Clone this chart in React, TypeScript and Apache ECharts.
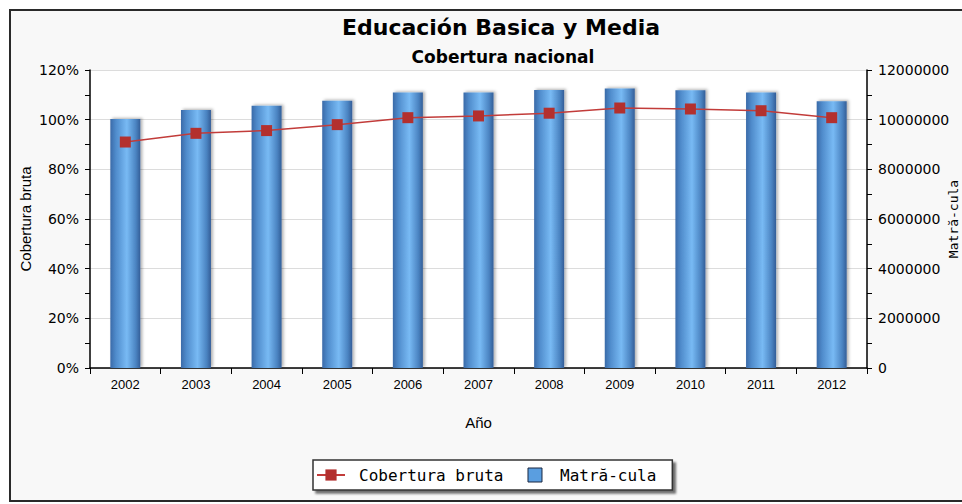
import React, { useEffect, useRef } from "react";
import * as echarts from "echarts";

const years = ["2002", "2003", "2004", "2005", "2006", "2007", "2008", "2009", "2010", "2011", "2012"];
const coberturaBruta = [91.0, 94.5, 95.6, 98.0, 100.8, 101.5, 102.6, 104.7, 104.3, 103.6, 100.8];
const matricula = [10030000, 10390000, 10560000, 10760000, 11090000, 11090000, 11190000, 11260000, 11180000, 11090000, 10740000];
const titleText = "Educación Basica y Media";
const subtitleText = "Cobertura nacional";
const lineName = "Cobertura bruta";
const barName = "Matră-cula";

export default function App() {
  const ref = useRef<HTMLDivElement>(null);
  useEffect(() => {
    if (!ref.current) return;
    const chart = echarts.init(ref.current, null, { renderer: "svg" });
    const barGrad = new echarts.graphic.LinearGradient(0, 0, 1, 0, [
      { offset: 0, color: "#3a6aa8" },
      { offset: 0.18, color: "#4f8bcb" },
      { offset: 0.55, color: "#78baf4" },
      { offset: 0.85, color: "#4b84c2" },
      { offset: 1, color: "#335e98" },
    ]);
    chart.setOption({
      animation: false,
      backgroundColor: "#ffffff",
      graphic: [
        {
          type: "rect",
          z: -100,
          silent: true,
          shape: { x: 10, y: 10, width: 980, height: 491 },
          style: { fill: "#f8f8f8", stroke: "#2a2a2a", lineWidth: 2 },
        },
      ],
      title: [
        {
          text: titleText,
          left: 496,
          textAlign: "center",
          top: 11,
          textStyle: { fontFamily: "DejaVu Sans", fontWeight: "bold", fontSize: 22, color: "#000" },
        },
        {
          text: subtitleText,
          left: 498,
          textAlign: "center",
          top: 43,
          textStyle: { fontFamily: "DejaVu Sans", fontWeight: "bold", fontSize: 17, color: "#000" },
        },
      ],
      legend: {
        left: 313,
        top: 460,
        orient: "horizontal",
        backgroundColor: "#ffffff",
        borderColor: "#333",
        borderWidth: 1.5,
        borderRadius: 0,
        shadowColor: "rgba(0,0,0,0.55)",
        shadowOffsetX: 3,
        shadowOffsetY: 3,
        shadowBlur: 2,
        padding: [7, 16, 7, 3],
        itemWidth: 28,
        itemHeight: 14,
        itemGap: 24,
        textStyle: { fontFamily: "DejaVu Sans Mono", fontSize: 16, color: "#000", padding: [0, 0, 0, 9] },
        data: [
          { name: lineName },
          {
            name: barName,
            icon: "path://M0,0H10V10H0Z",
            itemStyle: { color: "#5a9ee0", borderColor: "#1a2740", borderWidth: 1 },
            textStyle: { padding: [0, 0, 0, 6] },
          },
        ],
      },
      grid: {
        left: 90,
        right: 95,
        top: 70,
        bottom: 136,
        show: true,
        backgroundColor: "#ffffff",
        borderWidth: 0,
        containLabel: false,
        outerBoundsMode: "none",
      },
      xAxis: {
        type: "category",
        data: years,
        boundaryGap: true,
        name: "Año",
        nameLocation: "middle",
        nameGap: 47,
        nameTextStyle: { fontFamily: "Liberation Sans", fontSize: 15, color: "#000" },
        axisLine: { lineStyle: { color: "#000", width: 1.5 } },
        axisTick: { show: true, length: 6, lineStyle: { color: "#000" } },
        axisLabel: { fontFamily: "Liberation Sans", fontSize: 13, color: "#000", margin: 10 },
        splitLine: { show: false },
      },
      yAxis: [
        {
          type: "value",
          position: "left",
          min: 0,
          max: 120,
          interval: 20,
          name: lineName,
          nameLocation: "middle",
          nameGap: 57,
          nameMoveOverlap: false,
          nameTextStyle: { fontFamily: "Liberation Sans", fontSize: 15, color: "#000" },
          axisLine: { show: true, lineStyle: { color: "#000", width: 1.5 } },
          axisTick: { show: true, length: 5, lineStyle: { color: "#000" } },
          minorTick: { show: true, splitNumber: 2, length: 5, lineStyle: { color: "#000" } },
          axisLabel: { formatter: "{value}%", fontFamily: "DejaVu Sans", fontSize: 14, color: "#000", margin: 11 },
          splitLine: { show: true, lineStyle: { color: "#dcdcdc", width: 1 } },
        },
        {
          type: "value",
          position: "right",
          min: 0,
          max: 12000000,
          interval: 2000000,
          name: barName,
          nameLocation: "middle",
          nameGap: 80,
          nameMoveOverlap: false,
          nameTextStyle: { fontFamily: "DejaVu Sans Mono", fontSize: 13, color: "#000" },
          axisLine: { show: true, lineStyle: { color: "#000", width: 1.5 } },
          axisTick: { show: true, length: 5, lineStyle: { color: "#000" } },
          minorTick: { show: true, splitNumber: 2, length: 5, lineStyle: { color: "#000" } },
          axisLabel: {
            formatter: (v: number) => String(v),
            fontFamily: "DejaVu Sans",
            fontSize: 14,
            color: "#000",
            margin: 11,
          },
          splitLine: { show: false },
        },
      ],
      series: [
        {
          name: barName,
          type: "bar",
          yAxisIndex: 1,
          data: matricula,
          barWidth: 30,
          itemStyle: {
            color: barGrad,
            shadowColor: "rgba(0,0,0,0.3)",
            shadowBlur: 3,
            shadowOffsetX: 2,
            shadowOffsetY: -1,
          },
          z: 2,
        },
        {
          name: lineName,
          type: "line",
          yAxisIndex: 0,
          data: coberturaBruta,
          symbol: "rect",
          symbolSize: 11,
          itemStyle: { color: "#b3302e" },
          lineStyle: { color: "#c23c3a", width: 1.5 },
          z: 3,
        },
      ],
    });
    return () => chart.dispose();
  }, []);
  return <div ref={ref} style={{ position: "absolute", left: 0, top: 0, width: 962, height: 504 }} />;
}
